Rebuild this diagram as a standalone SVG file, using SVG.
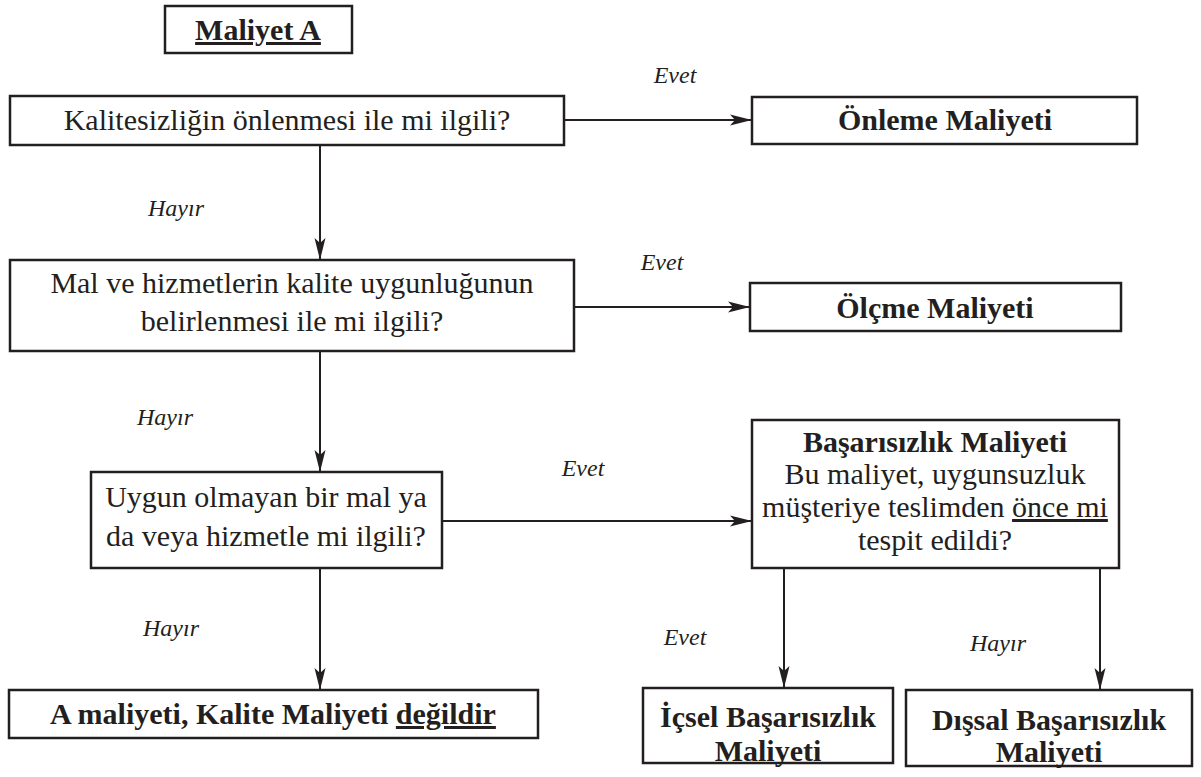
<svg xmlns="http://www.w3.org/2000/svg" width="1201" height="777" viewBox="0 0 1201 777">
<defs>
<marker id="ah" markerUnits="userSpaceOnUse" markerWidth="24" markerHeight="12" refX="22" refY="6" orient="auto">
<path d="M0,0.5 L22,6 L0,11.5 L5,6 Z" fill="#231f20"/>
</marker>
</defs>
<rect width="1201" height="777" fill="#fff"/>
<g id="connectors" stroke="#231f20" stroke-width="2" fill="none" marker-end="url(#ah)">
<line x1="564" y1="120" x2="752" y2="120"/>
<line x1="320" y1="145" x2="320" y2="260"/>
<line x1="574" y1="307" x2="750" y2="307"/>
<line x1="320" y1="351" x2="320" y2="472"/>
<line x1="442" y1="521" x2="752" y2="521"/>
<line x1="320" y1="568" x2="320" y2="690"/>
<line x1="784" y1="568" x2="784" y2="688"/>
<line x1="1100" y1="568" x2="1100" y2="690"/>
</g>
<g id="labels" font-size="24" font-style="italic" fill="#231f20" text-anchor="middle">
<text font-family="Liberation Serif" x="675" y="83">Evet</text>
<text font-family="Liberation Serif" x="176" y="216">Hayır</text>
<text font-family="Liberation Serif" x="662" y="270">Evet</text>
<text font-family="Liberation Serif" x="165" y="425">Hayır</text>
<text font-family="Liberation Serif" x="583" y="476">Evet</text>
<text font-family="Liberation Serif" x="171" y="636">Hayır</text>
<text font-family="Liberation Serif" x="685" y="645">Evet</text>
<text font-family="Liberation Serif" x="998" y="651">Hayır</text>
</g>
<g id="nodes" font-size="30" fill="#231f20" text-anchor="middle">
<g id="maliyetA">
<rect x="165" y="6" width="187" height="47" fill="#fff" stroke="#231f20" stroke-width="2.5"/>
<text font-family="Liberation Serif" x="258" y="40" font-weight="bold" text-decoration="underline">Maliyet A</text>
</g>
<g id="q1">
<rect x="10" y="96" width="554" height="49" fill="#fff" stroke="#231f20" stroke-width="2.5"/>
<text font-family="Liberation Serif" x="287" y="130">Kalitesizliğin önlenmesi ile mi ilgili?</text>
</g>
<g id="onleme">
<rect x="752" y="97" width="385" height="47" fill="#fff" stroke="#231f20" stroke-width="2.5"/>
<text font-family="Liberation Serif" x="945" y="130" font-weight="bold">Önleme Maliyeti</text>
</g>
<g id="q2">
<rect x="10" y="260" width="564" height="91" fill="#fff" stroke="#231f20" stroke-width="2.5"/>
<text font-family="Liberation Serif" x="292" y="293">Mal ve hizmetlerin kalite uygunluğunun</text>
<text font-family="Liberation Serif" x="292" y="331">belirlenmesi ile mi ilgili?</text>
</g>
<g id="olcme">
<rect x="750" y="283" width="371" height="48" fill="#fff" stroke="#231f20" stroke-width="2.5"/>
<text font-family="Liberation Serif" x="935" y="318" font-weight="bold">Ölçme Maliyeti</text>
</g>
<g id="q3">
<rect x="91" y="472" width="351" height="96" fill="#fff" stroke="#231f20" stroke-width="2.5"/>
<text font-family="Liberation Serif" x="266" y="507">Uygun olmayan bir mal ya</text>
<text font-family="Liberation Serif" x="266" y="546">da veya hizmetle mi ilgili?</text>
</g>
<g id="basarisizlik">
<rect x="752" y="420" width="367" height="148" fill="#fff" stroke="#231f20" stroke-width="2.5"/>
<text font-family="Liberation Serif" x="935" y="452" font-weight="bold">Başarısızlık Maliyeti</text>
<text font-family="Liberation Serif" x="935" y="484">Bu maliyet, uygunsuzluk</text>
<text font-family="Liberation Serif" x="935" y="517">müşteriye teslimden <tspan text-decoration="underline">önce mi</tspan></text>
<text font-family="Liberation Serif" x="935" y="550">tespit edildi?</text>
</g>
<g id="degil">
<rect x="9" y="690" width="529" height="48" fill="#fff" stroke="#231f20" stroke-width="2.5"/>
<text font-family="Liberation Serif" x="273" y="724" font-weight="bold">A maliyeti, Kalite Maliyeti <tspan text-decoration="underline">değildir</tspan></text>
</g>
<g id="icsel">
<rect x="643" y="688" width="250" height="75" fill="#fff" stroke="#231f20" stroke-width="2.5"/>
<text font-family="Liberation Serif" x="768" y="727" font-weight="bold">İçsel Başarısızlık</text>
<text font-family="Liberation Serif" x="768" y="761" font-weight="bold">Maliyeti</text>
</g>
<g id="dissal">
<rect x="906" y="690" width="286" height="76" fill="#fff" stroke="#231f20" stroke-width="2.5"/>
<text font-family="Liberation Serif" x="1049" y="730" font-weight="bold">Dışsal Başarısızlık</text>
<text font-family="Liberation Serif" x="1049" y="762" font-weight="bold">Maliyeti</text>
</g>
</g>
</svg>
